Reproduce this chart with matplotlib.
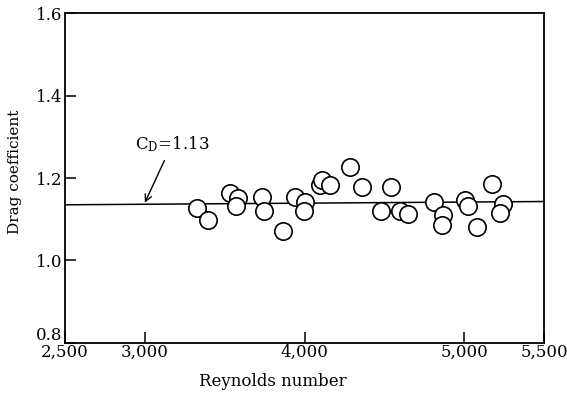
import matplotlib.pyplot as plt
from matplotlib.transforms import ScaledTranslation

plt.rcParams['font.family'] = ['DejaVu Serif']
plt.rcParams['mathtext.fontset'] = 'dejavuserif'

# measured drag coefficients against Reynolds number
reynolds = [3327, 3396, 3533, 3584, 3571, 3734, 3746, 3865, 3941, 4003,
            3997, 4097, 4110, 4160, 4285, 4360, 4542, 4479, 4598, 4648,
            4811, 4867, 4861, 5005, 5024, 5080, 5174, 5243, 5224]
drag = [1.127, 1.098, 1.164, 1.152, 1.132, 1.154, 1.120, 1.071, 1.154, 1.142,
        1.120, 1.183, 1.195, 1.183, 1.227, 1.178, 1.178, 1.120, 1.120, 1.113,
        1.142, 1.110, 1.086, 1.147, 1.132, 1.081, 1.185, 1.137, 1.115]

# mean line, C_D = 1.13
fit_re = [2500, 5500]
fit_cd = [1.135, 1.143]

xticks = [2500, 3000, 4000, 5000, 5500]
xtick_labels = ['2,500', '3,000', '4,000', '5,000', '5,500']
yticks = [0.8, 1.0, 1.2, 1.4, 1.6]

fig = plt.figure(figsize=(5.67, 3.96), dpi=100)
ax = fig.add_axes([0.1146, 0.134, 0.845, 0.833])

ax.plot(fit_re, fit_cd, color='black', lw=1.1, zorder=2)
ax.plot(reynolds, drag, 'o', ms=12.5, mfc='white', mec='black', mew=1.2,
        zorder=3)

ax.annotate('C$_{\\mathrm{D}}$=1.13', xy=(3000, 1.140), xytext=(3170, 1.282),
            ha='center', va='center', fontsize=12,
            arrowprops=dict(arrowstyle='->', color='black', lw=1,
                            shrinkA=3, shrinkB=0))

ax.set_xlim(2500, 5500)
ax.set_ylim(0.8, 1.6)
ax.set_xticks(xticks)
ax.set_xticklabels(xtick_labels)
ax.set_yticks(yticks)
ax.set_yticklabels([f'{v:.1f}' for v in yticks])
ax.tick_params(direction='in', length=8, width=1.1, labelsize=12, pad=1)
ax.tick_params(axis='y', pad=2)

# lift the bottom y label clear of the first x label
lbl = ax.get_yticklabels()[0]
lbl.set_transform(lbl.get_transform() + ScaledTranslation(0, 7 / 72, fig.dpi_scale_trans))

for s in ax.spines.values():
    s.set_linewidth(1.3)

ax.set_xlabel('Reynolds number', fontsize=12)
ax.xaxis.set_label_coords(0.434, -0.09)
ax.set_ylabel('Drag coefficient', fontsize=11)
ax.yaxis.set_label_coords(-0.09, 0.52)

fig.savefig('out.png', dpi=100)
